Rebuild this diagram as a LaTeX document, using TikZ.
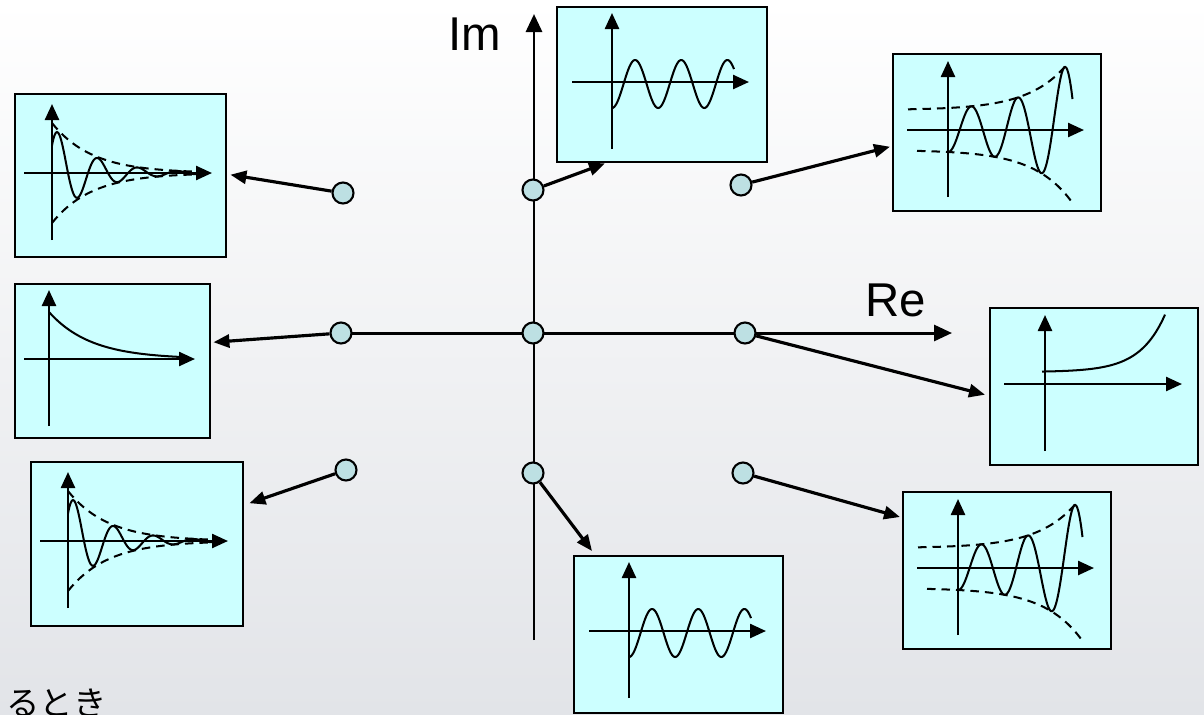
\documentclass[tikz,border=0pt]{standalone}
\usepackage{fontspec}
\setmainfont{Liberation Sans}
\newfontfamily\jpfont{Noto Sans CJK JP}
\usepackage{tikz}
\usetikzlibrary{arrows.meta,calc}

\definecolor{boxcyan}{HTML}{CCFFFF}
\definecolor{polecyan}{HTML}{BDE0E3}
\definecolor{bgbottom}{HTML}{E2E4E8}
\definecolor{bgmiddle}{HTML}{F4F5F6}

% small axes inside a response box (left end, right end)
\newcommand{\plotaxes}[2]{%
  \draw[ax] (0,67) -- (0,-69);
  \draw[ax] (#1,0) -- (#2,0);}
% response types, drawn in the frame of box #1
\newcommand{\dampedplot}[1]{%
  \begin{scope}[shift={($(#1.north west)+(38,80)$)}]
    \plotaxes{-28}{160}
    \draw[env, domain=0:150] plot (\x,{-50*exp(-\x/40)});
    \draw[env, domain=0:150] plot (\x,{50*exp(-\x/40)});
    \draw[curve, domain=0:150] plot (\x,{-47*exp(-\x/40)*cos(9*(\x-6))});
  \end{scope}}
\newcommand{\decayplot}[1]{%
  \begin{scope}[shift={($(#1.north west)+(35,76)$)}]
    \plotaxes{-25}{146}
    \draw[curve, domain=0:135] plot (\x,{-47*exp(-\x/42)});
  \end{scope}}
\newcommand{\sustainplot}[1]{%
  \begin{scope}[shift={($(#1.north west)+(56,76)$)}]
    \plotaxes{-40}{137}
    \draw[curve, domain=0:122] plot (\x,{2+24*cos(7.8*\x)});
  \end{scope}}
\newcommand{\growplot}[1]{%
  \begin{scope}[shift={($(#1.north west)+(56,77)$)}]
    \plotaxes{-41}{136}
    \draw[env, domain=-40:118] plot (\x,{-(20+2*exp(\x/38))});
    \draw[env, domain=-31:124] plot (\x,{20+2*exp(\x/38)});
    \draw[curve, domain=0:124.5] plot (\x,{(20+2*exp(\x/38))*cos(7.75*\x)});
  \end{scope}}
\newcommand{\expplot}[1]{%
  \begin{scope}[shift={($(#1.north west)+(56,77)$)}]
    \plotaxes{-41}{137}
    \draw[curve, domain=-3:120] plot (\x,{-(12+0.5*exp(\x/25.3))});
  \end{scope}}

\begin{document}
\begin{tikzpicture}[
  x=0.02cm, y=-0.02cm,
  box/.style={draw, line width=1.4pt, fill=boxcyan, anchor=north west, inner sep=0pt},
  pole/.style={draw, circle, line width=1.2pt, fill=polecyan, minimum size=0.42cm, inner sep=0pt},
  axis/.style={line width=1.7pt, -{Triangle[length=3.6mm, width=3.2mm]}},
  flow/.style={line width=1.8pt, -{Triangle[length=3.2mm, width=2.6mm]}},
  ax/.style={line width=1.4pt, -{Triangle[length=3.2mm, width=2.8mm]}},
  curve/.style={line width=1.15pt, smooth, samples=120},
  env/.style={curve, dash pattern=on 0.17cm off 0.12cm},
  lbl/.style={font=\fontsize{27}{32}\selectfont, anchor=base west, inner sep=0pt}
]
  \useasboundingbox (0,0) rectangle (1204,714);
  \clip (0,0) rectangle (1204,714);
  \shade[top color=white, middle color=bgmiddle, bottom color=bgbottom] (0,0) rectangle (1204,714);

  % complex plane
  \draw[axis] (341,333) -- (952,333);
  \draw[axis] (534,640) -- (534,14);
  \node[lbl] (im) at (448,50) {Im};
  \node[lbl] (re) at (865,316) {Re};

  % response boxes
  \node[box, minimum width=4.22cm, minimum height=3.26cm] (dampU) at (14,93) {};
  \node[box, minimum width=4.20cm, minimum height=3.10cm] (sustU) at (556,6) {};
  \node[box, minimum width=4.16cm, minimum height=3.14cm] (growU) at (892,53) {};
  \node[box, minimum width=3.90cm, minimum height=3.08cm] (decay) at (14,283) {};
  \node[box, minimum width=4.16cm, minimum height=3.14cm] (expg) at (989,307) {};
  \node[box, minimum width=4.24cm, minimum height=3.28cm] (dampL) at (30,461) {};
  \node[box, minimum width=4.18cm, minimum height=3.14cm] (sustL) at (573,555) {};
  \node[box, minimum width=4.16cm, minimum height=3.14cm] (growL) at (902,491) {};
  \dampedplot{dampU}
  \sustainplot{sustU}
  \growplot{growU}
  \decayplot{decay}
  \expplot{expg}
  \dampedplot{dampL}
  \sustainplot{sustL}
  \growplot{growL}

  % poles
  \node[pole] (pUL) at (343,193) {};
  \node[pole] (pUC) at (533,190) {};
  \node[pole] (pUR) at (741,185) {};
  \node[pole] (pML) at (341,333) {};
  \node[pole] (pO)  at (533,333) {};
  \node[pole] (pMR) at (745,333) {};
  \node[pole] (pLL) at (346,470) {};
  \node[pole] (pLC) at (533,473) {};
  \node[pole] (pLR) at (743,473) {};

  % pole -> response
  \draw[flow] (pUL) -- ($(dampU.east)+(3,-1)$);
  \draw[flow] (pUC) -- ($(sustU.south west)+(49,0)$);
  \draw[flow] (pUR) -- ($(growU.west)+(-2,14)$);
  \draw[flow] (pML) -- ($(decay.east)+(2,-19)$);
  \draw[flow] (pMR) -- ($(expg.west)+(-4,8)$);
  \draw[flow] (pLL) -- ($(dampL.east)+(5,-41)$);
  \draw[flow] (pLC) -- ($(sustL.north west)+(19,-4)$);
  \draw[flow] (pLR) -- ($(growL.north west)+(-2,26)$);

  \node[font=\jpfont\fontsize{19}{23}\selectfont, anchor=base west, inner sep=0pt] (cap) at (6,715) {るとき};
\end{tikzpicture}
\end{document}
